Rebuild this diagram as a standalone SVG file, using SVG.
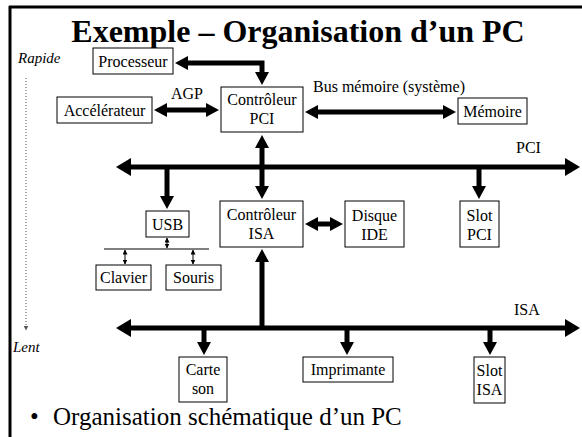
<svg xmlns="http://www.w3.org/2000/svg" width="582" height="437" viewBox="0 0 582 437" font-family="'Liberation Serif', 'DejaVu Serif', serif">
<style>
text{font-family:"Liberation Serif","DejaVu Serif",serif;fill:#000}
.box rect{fill:#fff;stroke:#000;stroke-width:1}
.box text{font-size:16px;text-anchor:middle}
.lbl{font-size:16px}
.it{font-size:15px;font-style:italic}
.bus{fill:none;stroke:#000;stroke-width:5}
.thin{fill:none;stroke:#000;stroke-width:1}
</style>
<defs>
<marker id="ah" markerUnits="userSpaceOnUse" viewBox="0 0 13 14" markerWidth="13" markerHeight="14" refX="4" refY="7" orient="auto-start-reverse"><path d="M0,0 L13,7 L0,14 z" fill="#000"/></marker>
<marker id="ahb" markerUnits="userSpaceOnUse" viewBox="0 0 15 18" markerWidth="15" markerHeight="18" refX="4" refY="9" orient="auto-start-reverse"><path d="M0,0 L15,9 L0,18 z" fill="#000"/></marker>
<marker id="ahs" markerUnits="userSpaceOnUse" viewBox="0 0 5 5" markerWidth="5" markerHeight="5" refX="4.5" refY="2.5" orient="auto-start-reverse"><path d="M0,0 L5,2.5 L0,5 z" fill="#000"/></marker>
<marker id="ahg" markerUnits="userSpaceOnUse" viewBox="0 0 5 5" markerWidth="5" markerHeight="5" refX="4.5" refY="2.5" orient="auto"><path d="M0,0 L5,2.5 L0,5 z" fill="#555"/></marker>
</defs>
<g id="frame">
<line x1="10" y1="6" x2="10" y2="437" stroke="#000" stroke-width="3"/>
<line x1="9" y1="7" x2="582" y2="7" stroke="#000" stroke-width="3"/>
</g>
<text x="298" y="42" font-size="32" font-weight="bold" text-anchor="middle">Exemple – Organisation d’un PC</text>
<text class="it" x="18" y="63">Rapide</text>
<text class="it" x="13" y="352">Lent</text>
<line x1="26" y1="78" x2="26" y2="330" stroke="#555" stroke-width="1" stroke-dasharray="1,2" marker-end="url(#ahg)"/>
<g id="connectors">
<path class="bus" d="M184,63 H262 V76" marker-start="url(#ah)" marker-end="url(#ah)"/>
<path class="bus" d="M163,110 H210" marker-start="url(#ah)" marker-end="url(#ah)"/>
<path class="bus" d="M314,112 H447" marker-start="url(#ah)" marker-end="url(#ah)"/>
<path class="bus" d="M127,167 H569" marker-start="url(#ahb)" marker-end="url(#ahb)"/>
<path class="bus" d="M262,144 V190" marker-start="url(#ah)" marker-end="url(#ah)"/>
<path class="bus" d="M167,167 V200" marker-end="url(#ah)"/>
<path class="bus" d="M479,167 V190" marker-end="url(#ah)"/>
<path class="bus" d="M314,224 H334" marker-start="url(#ah)" marker-end="url(#ah)"/>
<path class="bus" d="M127,328 H569" marker-start="url(#ahb)" marker-end="url(#ahb)"/>
<path class="bus" d="M262,328 V258" marker-end="url(#ah)"/>
<path class="bus" d="M204,328 V346" marker-end="url(#ah)"/>
<path class="bus" d="M347,328 V346" marker-end="url(#ah)"/>
<path class="bus" d="M490,328 V346" marker-end="url(#ah)"/>
<path class="thin" d="M167,238 V248" marker-start="url(#ahs)" marker-end="url(#ahs)"/>
<path class="thin" d="M104,249 H209"/>
<path class="thin" d="M125,250 V264" marker-start="url(#ahs)" marker-end="url(#ahs)"/>
<path class="thin" d="M193,250 V264" marker-start="url(#ahs)" marker-end="url(#ahs)"/>
</g>
<text class="lbl" x="187" y="99" text-anchor="middle">AGP</text>
<text class="lbl" x="313" y="92">Bus mémoire (système)</text>
<text class="lbl" x="516" y="153">PCI</text>
<text class="lbl" x="514" y="315">ISA</text>
<g id="processeur" class="box"><rect x="93" y="48" width="80" height="26"/><text x="133" y="67">Processeur</text></g>
<g id="controleur-pci" class="box"><rect x="221" y="87" width="82" height="45"/><text x="262" y="105">Contrôleur</text><text x="262" y="124">PCI</text></g>
<g id="accelerateur" class="box"><rect x="57" y="97" width="95" height="26"/><text x="104.5" y="116">Accélérateur</text></g>
<g id="memoire" class="box"><rect x="458" y="98" width="69" height="26"/><text x="492.5" y="117">Mémoire</text></g>
<g id="usb" class="box"><rect x="146" y="211" width="43" height="26"/><text x="167.5" y="230">USB</text></g>
<g id="controleur-isa" class="box"><rect x="220" y="201" width="83" height="46"/><text x="261.5" y="220">Contrôleur</text><text x="261.5" y="239">ISA</text></g>
<g id="disque-ide" class="box"><rect x="345" y="201" width="59" height="46"/><text x="374.5" y="221">Disque</text><text x="374.5" y="240">IDE</text></g>
<g id="slot-pci" class="box"><rect x="460" y="201" width="39" height="46"/><text x="479.5" y="221">Slot</text><text x="479.5" y="240">PCI</text></g>
<g id="clavier" class="box"><rect x="96" y="265" width="55" height="25"/><text x="123.5" y="283">Clavier</text></g>
<g id="souris" class="box"><rect x="166" y="265" width="55" height="25"/><text x="193.5" y="283">Souris</text></g>
<g id="carte-son" class="box"><rect x="179" y="357" width="48" height="45"/><text x="203" y="375">Carte</text><text x="203" y="394">son</text></g>
<g id="imprimante" class="box"><rect x="303" y="357" width="90" height="25"/><text x="348" y="375">Imprimante</text></g>
<g id="slot-isa" class="box"><rect x="474" y="357" width="31" height="46"/><text x="489.5" y="376">Slot</text><text x="489.5" y="395">ISA</text></g>
<text x="30" y="425" font-size="25">•</text>
<text x="53" y="425" font-size="25">Organisation schématique d’un PC</text>
</svg>
